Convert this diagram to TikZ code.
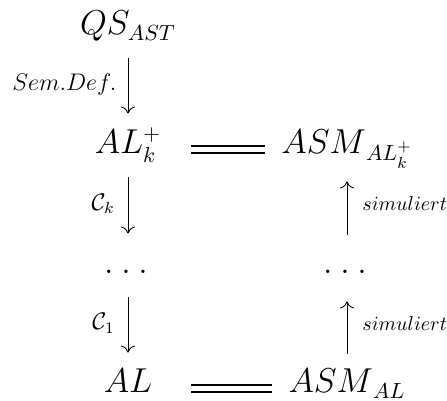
\documentclass[tikz,border=0pt]{standalone}
\usepackage{amsmath, amssymb}
\usepackage{tikz}
\usetikzlibrary{positioning, arrows.meta, calc}

\tikzset{
  term/.style={inner sep=0pt, anchor=base, text height=14pt, text depth=4pt, font=\fontsize{16}{19}\selectfont},
  lterm/.style={term, minimum width=60pt},
  rterm/.style={term, minimum width=58.5pt},
  downarr/.style={-{To[length=3.5pt, width=7pt]}, line width=0.45pt, shorten <=7.5pt, shorten >=6pt},
  uparr/.style={-{To[length=3.5pt, width=7pt]}, line width=0.45pt, shorten <=5.25pt, shorten >=9.5pt},
  eqline/.style={double, line width=1.15pt, double distance=2.35pt},
  lbl/.style={inner sep=0pt, font=\fontsize{12}{14}\selectfont},
  simlbl/.style={inner sep=0pt, font=\fontsize{10.3}{12}\selectfont},
}

\begin{document}
\begin{tikzpicture}[x=0.5pt, y=-0.5pt]
    \useasboundingbox (0,0) rectangle (447,401);

    % left column
    \node[lterm] (qs) at (128,35) {$QS_{AST}$};
    \node[lterm] (alk) at (128,154) {$AL_k^+$};
    \node[lterm] (ldots) at (126,274) {$.\:.\:.$};
    \node[lterm] (al) at (128,393) {$AL$};

    % right column
    \node[rterm] (asmk) at (347,154) {$ASM_{\,AL_k^+}$};
    \node[rterm] (rdots) at (345,274) {$.\:.\:.$};
    \node[rterm] (asm) at (347,393) {$ASM_{\,AL}$};

    % translation steps
    \draw[downarr] (qs) -- (alk) node[lbl, midway, left=5.5pt] (sem) {$Sem.Def.$};
    \draw[downarr] (alk) -- (alk |- ldots.north) node[lbl, midway, left=6.5pt] (ck) {$\mathcal{C}_k$};
    \draw[downarr] (alk |- ldots.south) -- (al) node[lbl, midway, left=6.5pt] (c1) {$\mathcal{C}_1$};

    % simulation
    \draw[uparr] (asmk |- rdots.north) -- (asmk) node[simlbl, midway, right=7.5pt] (simk) {$simuliert$};
    \draw[uparr] (asm) -- (asmk |- rdots.south) node[simlbl, midway, right=7.5pt] (sim1) {$simuliert$};

    % equalities
    \draw[eqline, shorten <=1.5pt, shorten >=8pt] ([yshift=2.25pt]alk.base east) -- ([yshift=2.25pt]asmk.base west);
    \draw[eqline, shorten <=1.5pt, shorten >=8pt] ([yshift=2.25pt]al.base east) -- ([yshift=2.25pt]asm.base west);
\end{tikzpicture}
\end{document}
